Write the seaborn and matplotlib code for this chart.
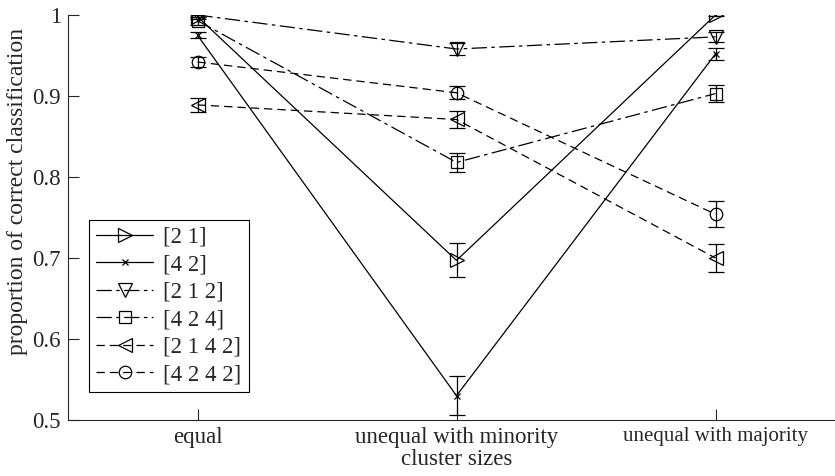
import matplotlib
matplotlib.use("Agg")
import matplotlib.pyplot as plt
import seaborn as sns
import numpy as np

# Condition categories on the x axis
categories = ["equal", "unequal with minority", "unequal with majority"]
x_pos = [1, 2, 3]

# Mean proportion of correct classification per network architecture
series_names = ["[2 1]", "[4 2]", "[2 1 2]", "[4 2 4]", "[2 1 4 2]", "[4 2 4 2]"]
vals_21 = [0.998, 0.697, 1.000]
vals_42 = [0.975, 0.530, 0.952]
vals_212 = [1.000, 0.958, 0.973]
vals_424 = [0.993, 0.818, 0.903]
vals_2142 = [0.889, 0.871, 0.700]
vals_4242 = [0.942, 0.904, 0.754]

# Half-widths of the error bars
err_21 = [0.003, 0.021, 0.001]
err_42 = [0.004, 0.024, 0.0075]
err_212 = [0.002, 0.0075, 0.0065]
err_424 = [0.005, 0.012, 0.011]
err_2142 = [0.009, 0.010, 0.017]
err_4242 = [0.006, 0.008, 0.016]

y_ticks = [0.5, 0.6, 0.7, 0.8, 0.9, 1.0]
y_tick_labels = ["0.5", "0.6", "0.7", "0.8", "0.9", "1"]

sns.set_theme(style="ticks")
plt.rcParams["font.family"] = ["Liberation Serif", "DejaVu Serif"]
plt.rcParams["lines.scale_dashes"] = False
plt.rcParams["axes.linewidth"] = 0.8

dash = (0, (6, 3.6))
dashdot = (0, (11, 3.2, 2.5, 3.2))
styles = [
    ("-", ">", 10),
    ("-", "x", 5),
    (dashdot, "v", 10),
    (dashdot, "s", 8),
    (dash, "<", 10),
    (dash, "o", 9),
]
all_vals = [vals_21, vals_42, vals_212, vals_424, vals_2142, vals_4242]
all_errs = [err_21, err_42, err_212, err_424, err_2142, err_4242]

fig = plt.figure(figsize=(8.35, 4.76), dpi=100)
ax = fig.add_axes([68 / 835, 56 / 476, 777 / 835, 405 / 476])

fs = 16.5
for name, vals, errs, (ls, mk, ms) in zip(series_names, all_vals, all_errs, styles):
    sns.lineplot(x=x_pos, y=vals, ax=ax, color="black", linewidth=0.9,
                 linestyle=ls, marker=mk, markersize=ms,
                 markerfacecolor="none", markeredgecolor="black",
                 markeredgewidth=0.9, label=name)
    ax.errorbar(x_pos, vals, yerr=errs, fmt="none", ecolor="black",
                elinewidth=0.9, capsize=6, capthick=0.9)

ax.set_xlim(0.5, 3.5)
ax.set_ylim(0.5, 1.0)
ax.set_xticks(x_pos)
ax.set_xticklabels(categories, fontsize=fs)
ax.get_xticklabels()[2].set_fontsize(15)
ax.set_yticks(y_ticks)
ax.set_yticklabels(y_tick_labels, fontsize=fs)
ax.tick_params(direction="in", length=8, width=0.8, pad=5)
ax.set_xlabel("cluster sizes", fontsize=fs, labelpad=1)
ax.set_ylabel("proportion of correct classification", fontsize=17)
ax.yaxis.set_label_coords(-0.052, 0.565)
sns.despine(ax=ax)

leg = ax.legend(loc="lower left", bbox_to_anchor=(89 / 835, 84 / 476),
                bbox_transform=fig.transFigure, borderaxespad=0,
                fontsize=fs, frameon=True, fancybox=False, edgecolor="black",
                handlelength=2.5, labelspacing=0.28, handletextpad=0.45,
                borderpad=0.3)
leg.get_frame().set_linewidth(0.8)
leg.get_frame().set_alpha(1)

fig.savefig("out.png", dpi=100)
